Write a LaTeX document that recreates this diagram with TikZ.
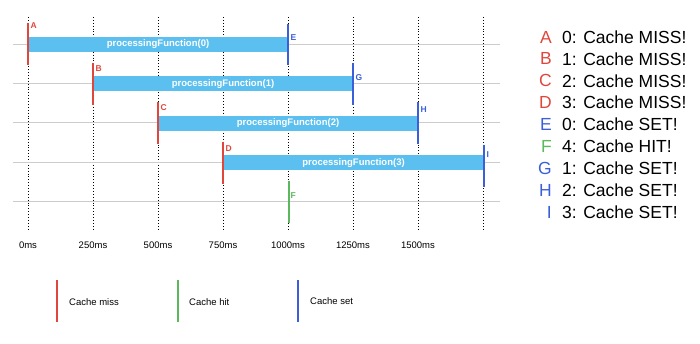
\documentclass[tikz,border=0pt]{standalone}
\usepackage{fontspec}
\setmainfont{Liberation Sans}
\usetikzlibrary{positioning}
\definecolor{barblue}{HTML}{5BC0EF}
\definecolor{missred}{HTML}{E0473C}
\definecolor{hitgreen}{HTML}{5CB85C}
\definecolor{setblue}{HTML}{3A5FD8}
\definecolor{rowgray}{HTML}{CCCCCC}

\begin{document}
\begin{tikzpicture}[
 x=1pt,y=-1pt,
 node distance=10pt,
 rowline/.style={draw=rowgray,line width=1pt},
 gridline/.style={draw=black,line width=0.9pt,dash pattern=on 0.9pt off 2pt},
 bar/.style={fill=barblue,minimum width=260pt,minimum height=15pt,inner sep=0pt,text=white,font=\bfseries\fontsize{9.5}{10}\selectfont},
 event/.style={line width=2pt},
 tag/.style={font=\bfseries\fontsize{8.5}{9}\selectfont,inner sep=0pt,anchor=west},
 tick/.style={font=\fontsize{9.5}{10}\selectfont,inner sep=0pt},
 logline/.style={font=\fontsize{17.5}{18}\selectfont,inner sep=0pt,anchor=west},
 logkey/.style={font=\fontsize{17.5}{18}\selectfont,inner sep=0pt},
 keyline/.style={line width=1.3pt},
 keytext/.style={font=\fontsize{9.5}{10}\selectfont,inner sep=0pt,anchor=west},
]
\useasboundingbox (0,0) rectangle (700,344);

\foreach \x in {28,93,158,223,288,353,418,483}
  \draw[gridline] (\x,17) -- (\x,229);
\foreach \y in {44.3,83.6,122.9,162.2,201.5}
  \draw[rowline] (13,\y) -- (500,\y);

\node[bar] (call0) at (158,44.5) {processingFunction(0)};
\node[bar] (call1) at (223,83.8) {processingFunction(1)};
\node[bar] (call2) at (288,123.1) {processingFunction(2)};
\node[bar,minimum width=261pt] (call3) at (353.5,162.8) {processingFunction(3)};

\draw[event,missred] (call0.west) ++(0,-21) -- ++(0,42);
\draw[event,missred] (call1.west) ++(0,-21) -- ++(0,42);
\draw[event,missred] (call2.west) ++(0,-21) -- ++(0,42);
\draw[event,missred] (call3.west) ++(0,-21) -- ++(0,42);
\draw[event,setblue] (call0.east) ++(0,-20) -- ++(0,41);
\draw[event,setblue] (call1.east) ++(0,-21) -- ++(0,42);
\draw[event,setblue] (call2.east) ++(0,-21) -- ++(0,42);
\draw[event,setblue] (call3.east) ++(0,-18) -- ++(0,42);
\draw[event,hitgreen] (288.5,181) -- (288.5,223);

\node[tag,text=missred] (tagA) at (30.5,25.5) {A};
\node[tag,text=missred] (tagB) at (95.5,69) {B};
\node[tag,text=missred] (tagC) at (160.5,107.7) {C};
\node[tag,text=missred] (tagD) at (225.5,149) {D};
\node[tag,text=setblue] (tagE) at (290.5,37.7) {E};
\node[tag,text=hitgreen] (tagF) at (290.5,196) {F};
\node[tag,text=setblue] (tagG) at (355.5,77.7) {G};
\node[tag,text=setblue] (tagH) at (420.5,110) {H};
\node[tag,text=setblue] (tagI) at (486.5,155) {I};

\node[tick] (t0) at (28,245) {0ms};
\node[tick] (t250) at (93,245) {250ms};
\node[tick] (t500) at (158,245) {500ms};
\node[tick] (t750) at (223,245) {750ms};
\node[tick] (t1000) at (288,245) {1000ms};
\node[tick] (t1250) at (353,245) {1250ms};
\node[tick] (t1500) at (418,245) {1500ms};

\node[logline] (logA) at (562,37) {0: Cache MISS!};
\node[logline] (logB) at (562,58.9) {1: Cache MISS!};
\node[logline] (logC) at (562,80.8) {2: Cache MISS!};
\node[logline] (logD) at (562,102.6) {3: Cache MISS!};
\node[logline] (logE) at (562,124.5) {0: Cache SET!};
\node[logline] (logF) at (562,146.4) {4: Cache HIT!};
\node[logline] (logG) at (562,168.3) {1: Cache SET!};
\node[logline] (logH) at (562,190.1) {2: Cache SET!};
\node[logline] (logI) at (562,212) {3: Cache SET!};
\node[logkey,text=missred,left=of logA] {A};
\node[logkey,text=missred,left=of logB] {B};
\node[logkey,text=missred,left=of logC] {C};
\node[logkey,text=missred,left=of logD] {D};
\node[logkey,text=setblue,left=of logE] {E};
\node[logkey,text=hitgreen,left=of logF] {F};
\node[logkey,text=setblue,left=of logG] {G};
\node[logkey,text=setblue,left=of logH] {H};
\node[logkey,text=setblue,left=of logI] {I};

\draw[keyline,missred] (57,280) -- (57,322);
\node[keytext] (kmiss) at (69,302) {Cache miss};
\draw[keyline,hitgreen] (178,280) -- (178,322);
\node[keytext] (khit) at (189,302) {Cache hit};
\draw[keyline,setblue] (298,280) -- (298,322);
\node[keytext] (kset) at (310,301) {Cache set};
\end{tikzpicture}
\end{document}
